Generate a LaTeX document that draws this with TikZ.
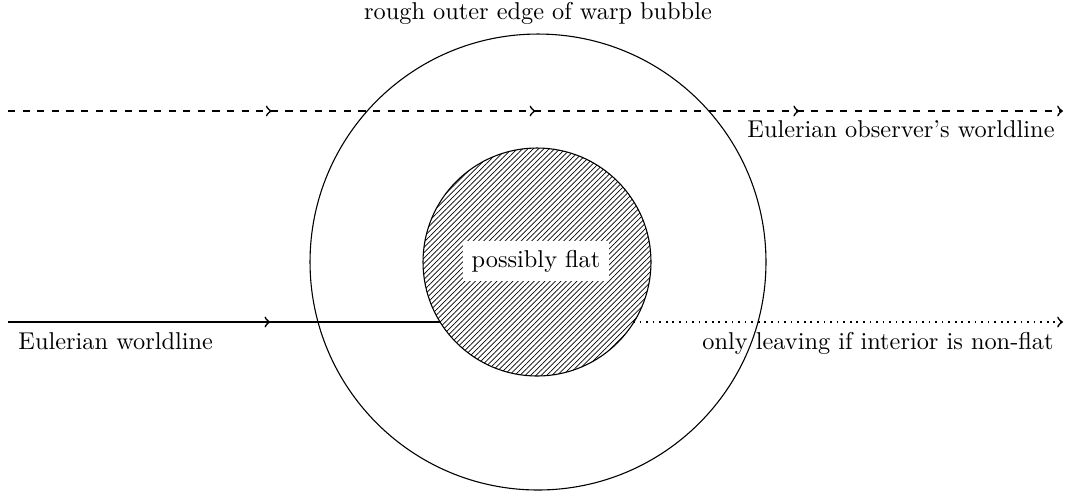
\documentclass[tikz,border=0pt]{standalone}
\usetikzlibrary{patterns.meta,decorations.markings}
\begin{document}
\begin{tikzpicture}[x=0.411pt,y=-0.411pt,
  world/.style={line width=0.7pt},
  ring/.style={circle,draw,line width=0.45pt,inner sep=0pt,outer sep=0pt},
  threearrows/.style={postaction={decorate},decoration={markings,
     mark=at position 0.25 with {\arrow{to}},
     mark=at position 0.5 with {\arrow{to}},
     mark=at position 0.75 with {\arrow{to}}}},
  onearrow/.style={postaction={decorate},decoration={markings,
     mark=at position #1 with {\arrow{to}}}},
  lbl/.style={inner sep=0pt}]
\useasboundingbox (0,0) rectangle (1068,490);
% circles
\node[ring,minimum size=187.4pt] (outer) at (538,262) {};
\node[ring,minimum size=93.7pt,pattern={Lines[angle=45,distance=1.55pt,line width=0.28pt]}] (inner) at (537,262) {};
\node[fill=white,inner sep=3.6pt] (flat) at (536,261) {possibly flat};
% coordinates
\coordinate (dL) at (8,111);
\coordinate (dR) at (1063,111);
\coordinate (sL) at (8,322);
\coordinate (sR) at (441,322);
\coordinate (pL) at (633,322);
\coordinate (pR) at (1063,322);
% worldlines
\draw[world,dashed,-to,threearrows] (dL) -- (dR);
\draw[world,onearrow=0.606] (sL) -- (sR);
\draw[world,dotted,-to] (pL) -- (pR);
% labels
\node[lbl,anchor=base] (top) at (538,19) {rough outer edge of warp bubble};
\node[lbl,anchor=base east] (obs) at (1055,137) {Eulerian observer's worldline};
\node[lbl,anchor=base west] (eul) at (18,349) {Eulerian worldline};
\node[lbl,anchor=base east] (leave) at (1054,349) {only leaving if interior is non-flat};
\end{tikzpicture}
\end{document}
